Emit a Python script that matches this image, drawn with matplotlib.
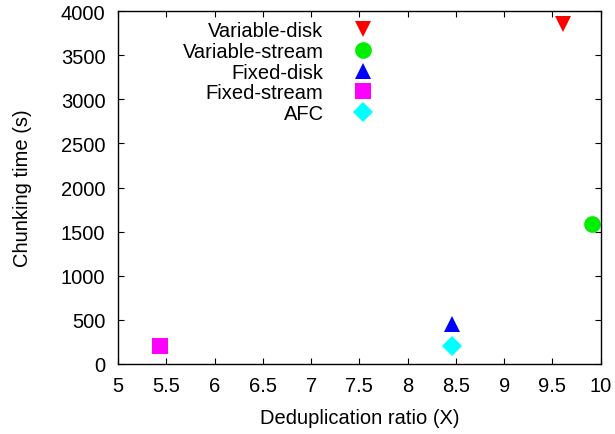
import matplotlib
matplotlib.use("Agg")
import matplotlib.pyplot as plt

series = ["Variable-disk", "Variable-stream", "Fixed-disk", "Fixed-stream", "AFC"]
dedup_ratio = [9.61, 9.91, 8.46, 5.43, 8.46]
chunk_time = [3850, 1585, 455, 200, 200]
markers = ["v", "o", "^", "s", "D"]
colors = ["#ff0000", "#00ee00", "#0000ff", "#ff00ff", "#00ffff"]
sizes = [11, 12, 11, 12, 10.5]

x_ticks = [5, 5.5, 6, 6.5, 7, 7.5, 8, 8.5, 9, 9.5, 10]
x_ticklabels = ["5", "5.5", "6", "6.5", "7", "7.5", "8", "8.5", "9", "9.5", "10"]
y_ticks = [0, 500, 1000, 1500, 2000, 2500, 3000, 3500, 4000]

FS = 14.5
plt.rcParams['font.family'] = ['Liberation Sans', 'DejaVu Sans']
plt.rcParams['font.size'] = FS

fig = plt.figure(figsize=(6.15, 4.35), dpi=100)
ax = fig.add_axes([118/615, 1-365/435, (600.7-118)/615, (365-12)/435])

for name, x, y, m, c, s in zip(series, dedup_ratio, chunk_time, markers, colors, sizes):
    ax.plot([x], [y], linestyle="none", marker=m, color=c, markersize=s,
            markeredgewidth=0, label=name, clip_on=False)

ax.set_xlim(5, 10)
ax.set_ylim(0, 4000)
ax.set_xticks(x_ticks)
ax.set_xticklabels(x_ticklabels)
ax.set_yticks(y_ticks)
ax.tick_params(direction="in", length=4.5, width=0.8, top=True, right=True,
               labelsize=FS)
ax.tick_params(axis="x", pad=8.5)
ax.tick_params(axis="y", pad=9)
for sp in ax.spines.values():
    sp.set_linewidth(1.0)

ax.set_xlabel("Deduplication ratio (X)", fontsize=FS, labelpad=9.5)
ax.set_ylabel("Chunking time (s)", fontsize=FS, labelpad=21)

leg = ax.legend(loc="upper right", bbox_to_anchor=(383/615, 1-22/435),
                bbox_transform=fig.transFigure, frameon=False, markerfirst=False,
                borderpad=0, borderaxespad=0, handlelength=2.0,
                handletextpad=0.95, labelspacing=0.09, fontsize=FS, numpoints=1)

fig.savefig("out.png", dpi=100)
